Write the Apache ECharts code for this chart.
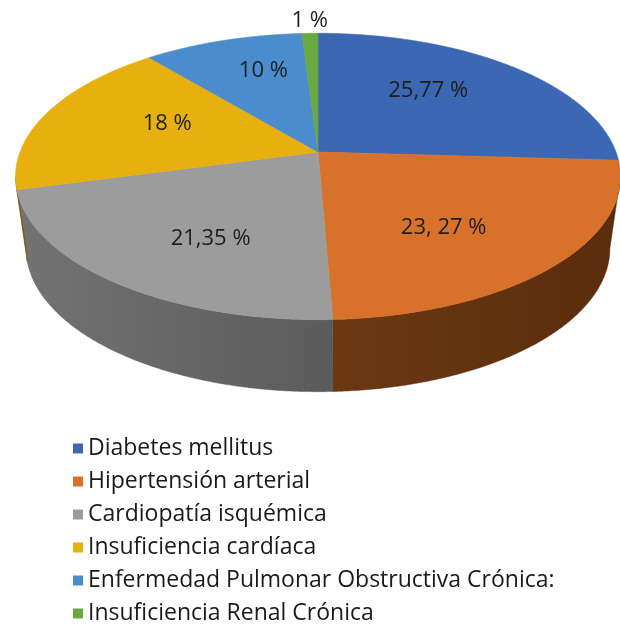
<!DOCTYPE html>
<html>
<head>
<meta charset="utf-8">
<script src="https://cdn.jsdelivr.net/npm/echarts@6/dist/echarts.min.js"></script>
<style>
html, body { margin: 0; padding: 0; background: #fff; }
#chart { width: 620px; height: 624px; }
</style>
</head>
<body>
<div id="chart"></div>
<script>
var names = ["Diabetes mellitus", "Hipertensión arterial", "Cardiopatía isquémica", "Insuficiencia cardíaca", "Enfermedad Pulmonar Obstructiva Crónica:", "Insuficiencia Renal Crónica"];
var values = [25.77, 23.27, 21.35, 18, 10, 1];
var labels = ["25,77 %", "23, 27 %", "21,35 %", "18 %", "10 %", "1 %"];
var topColors = ["#3c67b3", "#d8722b", "#9c9c9c", "#e8b00f", "#4b8dcc", "#6aa842"];
var sideLight = ["#2d4f8c", "#6b3812", "#737373", "#957008", "#356597", "#4c7a2e"];
var sideDark = ["#223d6c", "#5a2d0c", "#5b5b5b", "#7a5b04", "#294f77", "#3b5f23"];

// tilted pie geometry
var cx = 318, cy = 152, ax = 298, by = 139, tilt = 0.171, depth = 72, bottomScale = 0.965;

var total = values.reduce(function (a, b) { return a + b; }, 0);
var starts = [];
var acc = 0;
values.forEach(function (v) { starts.push(acc / total * 360); acc += v; });

// visible part of the side wall (front half)
var lo = Math.acos(-tilt) * 180 / Math.PI, hi = 360 - lo;

function proj(deg, rx, ry, dy, sx) {
  var a = deg * Math.PI / 180;
  var u = Math.sin(a) * rx, v = Math.cos(a) * ry;
  var w = 1 + tilt * v;
  return [cx + ax * (sx || 1) * u / w, cy + (dy || 0) - by * v / w];
}

function renderSlice(i) {
  return function (params, api) {
    var val = api.value(0);
    var a0 = starts[i], a1 = a0 + val / total * 360;
    var children = [];
    var d;

    var pts = [[cx, cy]];
    for (d = a0; d < a1; d += 0.5) pts.push(proj(d, 1, 1));
    pts.push(proj(a1, 1, 1));
    children.push({
      type: 'polygon', shape: { points: pts }, z2: 10,
      style: { fill: topColors[i], stroke: topColors[i], lineWidth: 0.6 }
    });

    var s0 = Math.max(a0, lo), s1 = Math.min(a1, hi);
    if (s1 > s0) {
      var side = [];
      for (d = s0; d < s1; d += 0.5) side.push(proj(d, 1, 1));
      side.push(proj(s1, 1, 1));
      for (d = s1; d > s0; d -= 0.5) side.push(proj(d, 1, 1, depth, bottomScale));
      side.push(proj(s0, 1, 1, depth, bottomScale));
      var grad = {
        type: 'linear', x: 0, y: 0, x2: 1, y2: 0,
        colorStops: [{ offset: 0, color: sideLight[i] }, { offset: 1, color: sideDark[i] }]
      };
      children.push({
        type: 'polygon', shape: { points: side }, z2: 1,
        style: { fill: grad, stroke: sideDark[i], lineWidth: 0.5 }
      });
    }

    var small = val / total < 0.03;
    var p = small ? proj((a0 + a1) / 2, 1.02, 1.02) : proj((a0 + a1) / 2, 0.55, 0.7);
    children.push({
      type: 'text', x: p[0], y: p[1], z2: 20,
      style: {
        text: labels[i], fill: '#1e1e1e', font: '22px "Open Sans"',
        align: 'center', verticalAlign: small ? 'bottom' : 'middle'
      }
    });
    return { type: 'group', children: children };
  };
}

var chart = echarts.init(document.getElementById('chart'));
chart.setOption({
  animation: false,
  legend: {
    orient: 'vertical',
    left: 73,
    top: 437,
    height: 200,
    padding: 0,
    icon: 'rect',
    itemWidth: 10,
    itemHeight: 10,
    itemGap: 10,
    itemTextGap: 5,
    textStyle: { fontFamily: 'Open Sans', fontSize: 23, color: '#1a1a1a' },
    data: names
  },
  series: names.map(function (n, i) {
    return {
      type: 'custom',
      name: n,
      coordinateSystem: 'none',
      renderItem: renderSlice(i),
      itemStyle: { color: topColors[i] },
      data: [values[i]]
    };
  })
});
</script>
</body>
</html>
